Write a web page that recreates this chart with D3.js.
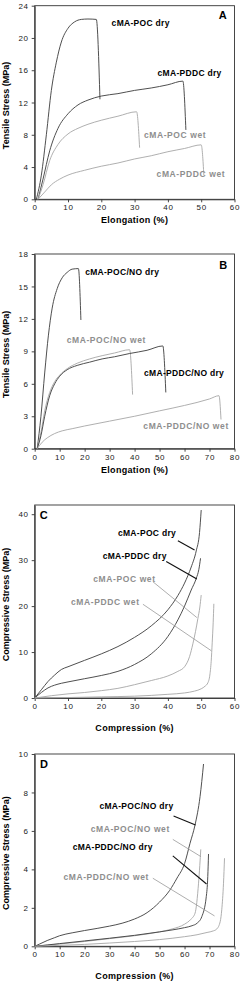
<!DOCTYPE html>
<html>
<head>
<meta charset="utf-8">
<script src="https://cdn.jsdelivr.net/npm/d3@7/dist/d3.min.js"></script>
<style>
  body { margin: 0; background: #fff; }
  text { font-family: Arial, "Liberation Sans", sans-serif; }
</style>
</head>
<body>
<svg id="chart" width="241" height="984"></svg>
<script>
//! DATA

//? Panel A - tensile, cMA-POC / cMA-PDDC
let aPocDryX = [0.5, 2, 3.5, 5, 6.5, 8, 10, 12, 14, 16, 18.5, 19.6];
let aPocDryY = [0, 3, 8, 13.5, 17, 19.5, 21.2, 22, 22.3, 22.35, 22.3, 12.4];
let aPddcDryX = [1, 2.5, 4.5, 7, 10, 13, 16, 20, 25, 30, 35, 40, 44.5, 45.4];
let aPddcDryY = [0, 2.5, 6, 8.8, 10.6, 11.7, 12.3, 12.8, 13.1, 13.5, 13.8, 14.2, 14.65, 8.6];
let aPocWetX = [1, 2.5, 4.5, 7, 10, 13, 16, 20, 25, 30.6, 31.5];
let aPocWetY = [0, 1.8, 4.8, 6.8, 8.1, 8.8, 9.3, 9.8, 10.3, 10.85, 6.4];
let aPddcWetX = [1, 3, 5, 7.5, 10, 15, 20, 25, 30, 35, 40, 45, 50, 50.8];
let aPddcWetY = [0, 0.9, 1.8, 2.5, 3.0, 3.6, 4.1, 4.5, 5.0, 5.4, 5.9, 6.3, 6.75, 3.0];

//? Panel B - tensile, /NO
let bPocDryX = [1, 2.5, 4, 5.5, 7, 9, 11, 13, 15, 17.5, 18.5];
let bPocDryY = [0, 3, 7, 10.5, 13, 14.8, 15.8, 16.3, 16.6, 16.65, 11.9];
let bPocWetX = [1, 2.5, 4, 6, 8, 10, 13, 17, 22, 27, 32, 38, 39.2];
let bPocWetY = [0, 1.5, 3.5, 5.2, 6.2, 6.8, 7.4, 7.9, 8.3, 8.6, 8.85, 9.15, 5.0];
let bPddcDryX = [1, 2.5, 4, 6, 8, 10, 13, 17, 22, 27, 32, 38, 45, 51.3, 52.5];
let bPddcDryY = [0, 1.2, 3, 4.9, 6.0, 6.7, 7.3, 7.7, 8.0, 8.3, 8.5, 8.8, 9.1, 9.5, 5.2];
let bPddcWetX = [1, 3, 5, 8, 11, 15, 20, 30, 40, 50, 60, 70, 73.8, 74.6];
let bPddcWetY = [0, 0.6, 1.0, 1.4, 1.65, 1.85, 2.1, 2.55, 3.0, 3.5, 4.0, 4.6, 4.9, 2.7];

//? Panel C - compressive
let cPocDryX = [0, 2, 4, 6, 8, 10, 15, 20, 25, 30, 35, 40, 43, 45, 47, 48.5, 49.5, 50];
let cPocDryY = [0, 1.8, 3.6, 5.0, 6.2, 6.8, 8.2, 9.6, 11.2, 13.2, 15.7, 19.2, 22.3, 25, 28.5, 32, 36, 40.9];
let cPddcDryX = [0, 2, 4, 6, 8, 10, 15, 20, 25, 30, 35, 40, 43, 45, 47, 48.5, 49.3, 49.8];
let cPddcDryY = [0, 1.2, 2.2, 2.8, 3.2, 3.5, 4.2, 4.9, 5.8, 7.3, 9.6, 13.4, 17, 20, 23.5, 26, 28, 30.4];
let cPocWetX = [0, 5, 10, 15, 20, 25, 30, 35, 40, 43, 45, 46.5, 47.5, 48.3, 49, 49.6, 50];
let cPocWetY = [0, 0.5, 0.9, 1.2, 1.6, 2.1, 2.9, 3.8, 4.8, 5.8, 6.8, 9, 11.8, 14.5, 17.3, 19.8, 22.4];
let cPddcWetX = [0, 10, 20, 30, 40, 45, 48, 50, 51.2, 52, 52.6, 53, 53.3, 53.6, 53.8];
let cPddcWetY = [0, 0.1, 0.25, 0.4, 0.8, 1.1, 1.5, 2.0, 2.6, 3.3, 5, 8, 12, 16.5, 20.5];

//? Panel D - compressive, /NO
let dPocDryX = [0, 2, 5, 8, 10, 15, 20, 25, 30, 35, 40, 45, 50, 54, 57, 60, 62.2, 64.2, 66.2, 67.6];
let dPocDryY = [0, 0.12, 0.3, 0.45, 0.55, 0.7, 0.82, 0.93, 1.05, 1.2, 1.42, 1.75, 2.3, 2.9, 3.55, 4.3, 5.36, 6.31, 7.78, 9.48];
let dPocWetX = [0, 5, 10, 20, 30, 40, 50, 55, 60, 62.5, 64.2, 65.6, 66.1, 66.5];
let dPocWetY = [0, 0.06, 0.12, 0.25, 0.4, 0.55, 0.75, 0.9, 1.15, 1.4, 1.72, 3.28, 4.2, 5.04];
let dPddcDryX = [0, 5, 10, 20, 30, 40, 50, 55, 60, 63, 65, 66.9, 68.7, 69.3, 69.6];
let dPddcDryY = [0, 0.07, 0.14, 0.28, 0.42, 0.57, 0.75, 0.85, 0.97, 1.07, 1.2, 1.54, 2.58, 3.62, 4.8];
let dPddcWetX = [0, 10, 20, 30, 40, 50, 60, 65, 69, 71.5, 72.9, 74.3, 74.9, 75.6, 76];
let dPddcWetY = [0, 0.05, 0.1, 0.17, 0.25, 0.35, 0.5, 0.6, 0.72, 0.8, 0.9, 1.3, 1.9, 3.28, 4.58];

//? Tick values
let tickX60 = [0, 10, 20, 30, 40, 50, 60];
let tickX80 = [0, 10, 20, 30, 40, 50, 60, 70, 80];
let tickYA = [0, 4, 8, 12, 16, 20, 24];
let tickYB = [0, 3, 6, 9, 12, 15, 18];
let tickYC = [0, 10, 20, 30, 40];
let tickYD = [0, 2, 4, 6, 8, 10];

//? Series names
let namesTensile = ["cMA-POC dry", "cMA-PDDC dry", "cMA-POC wet", "cMA-PDDC wet"];
let namesNO = ["cMA-POC/NO dry", "cMA-POC/NO wet", "cMA-PDDC/NO dry", "cMA-PDDC/NO wet"];

//! COLOURS
let darkLine = "#464646";
let lightLine = "#a6a6a6";
let darkText = "#000";
let lightText = "#8e8e8e";

function pts(xs, ys) {
    return xs.map((x, i) => ({ x: x, y: ys[i] }));
}

//? Panel settings; label and pointer positions are in data units
let panels = [
    {
        top: 5.7, bottom: 199.3, xMax: 60, yMax: 24, xTicks: tickX60, yTicks: tickYA,
        xTitle: "Elongation (%)", yTitle: "Tensile Stress (MPa)", titleGap: 21,
        letter: "A", letterX: 56.5, letterY: 22.8,
        series: [
            { d: pts(aPocDryX, aPocDryY), dark: true },
            { d: pts(aPddcDryX, aPddcDryY), dark: true },
            { d: pts(aPocWetX, aPocWetY), dark: false },
            { d: pts(aPddcWetX, aPddcWetY), dark: false }
        ],
        labels: [
            { t: namesTensile[0], x: 23.1, y: 21.9, dark: true },
            { t: namesTensile[1], x: 36.9, y: 15.7, dark: true },
            { t: namesTensile[2], x: 32.8, y: 7.97, dark: false },
            { t: namesTensile[3], x: 36.6, y: 3.14, dark: false }
        ],
        pointers: []
    },
    {
        top: 254, bottom: 448.7, xMax: 80, yMax: 18, xTicks: tickX80, yTicks: tickYB,
        xTitle: "Elongation (%)", yTitle: "Tensile Stress (MPa)", titleGap: 21.5,
        letter: "B", letterX: 75.5, letterY: 17.0,
        series: [
            { d: pts(bPocDryX, bPocDryY), dark: true },
            { d: pts(bPocWetX, bPocWetY), dark: false },
            { d: pts(bPddcDryX, bPddcDryY), dark: true },
            { d: pts(bPddcWetX, bPddcWetY), dark: false }
        ],
        labels: [
            { t: namesNO[0], x: 20.2, y: 16.3, dark: true },
            { t: namesNO[1], x: 12.8, y: 10.05, dark: false },
            { t: namesNO[2], x: 43.8, y: 6.97, dark: true },
            { t: namesNO[3], x: 43.5, y: 2.13, dark: false }
        ],
        pointers: []
    },
    {
        top: 505, bottom: 698, xMax: 60, yMax: 42, xTicks: tickX60, yTicks: tickYC,
        xTitle: "Compression (%)", yTitle: "Compressive Stress (MPa)", titleGap: 30,
        letter: "C", letterX: 2.7, letterY: 39.9,
        series: [
            { d: pts(cPocDryX, cPocDryY), dark: true },
            { d: pts(cPddcDryX, cPddcDryY), dark: true },
            { d: pts(cPocWetX, cPocWetY), dark: false },
            { d: pts(cPddcWetX, cPddcWetY), dark: false }
        ],
        labels: [
            { t: namesTensile[0], x: 25.0, y: 35.9, dark: true },
            { t: namesTensile[1], x: 20.4, y: 30.8, dark: true },
            { t: namesTensile[2], x: 17.6, y: 25.9, dark: false },
            { t: namesTensile[3], x: 10.9, y: 20.8, dark: false }
        ],
        pointers: [
            { x1: 43.0, y1: 34.2, x2: 48.0, y2: 32.2, dark: true },
            { x1: 39.5, y1: 29.7, x2: 48.7, y2: 25.9, dark: true },
            { x1: 35.5, y1: 25.3, x2: 48.7, y2: 17.5, dark: false },
            { x1: 32.5, y1: 20.4, x2: 53.0, y2: 10.3, dark: false }
        ]
    },
    {
        top: 754, bottom: 946.3, xMax: 80, yMax: 10, xTicks: tickX80, yTicks: tickYD,
        xTitle: "Compression (%)", yTitle: "Compressive Stress (MPa)", titleGap: 30,
        letter: "D", letterX: 3.7, letterY: 9.48,
        series: [
            { d: pts(dPocDryX, dPocDryY), dark: true },
            { d: pts(dPocWetX, dPocWetY), dark: false },
            { d: pts(dPddcDryX, dPddcDryY), dark: true },
            { d: pts(dPddcWetX, dPddcWetY), dark: false }
        ],
        labels: [
            { t: namesNO[0], x: 25.9, y: 7.3, dark: true },
            { t: namesNO[1], x: 22.4, y: 6.08, dark: false },
            { t: namesNO[2], x: 15.2, y: 5.15, dark: true },
            { t: namesNO[3], x: 11.5, y: 3.59, dark: false }
        ],
        pointers: [
            { x1: 55.6, y1: 6.78, x2: 64.4, y2: 6.31, dark: true },
            { x1: 55.3, y1: 5.56, x2: 66.6, y2: 4.66, dark: false },
            { x1: 55.3, y1: 4.7, x2: 68.8, y2: 3.24, dark: true },
            { x1: 47.3, y1: 3.54, x2: 72.0, y2: 1.58, dark: false }
        ]
    }
];

let svg = d3.select("#chart");
let left = 34.7;
let right = 234.5;

panels.forEach(function (p) {
    let x = d3.scaleLinear().domain([0, p.xMax]).range([left, right]);
    let y = d3.scaleLinear().domain([0, p.yMax]).range([p.bottom, p.top]);
    let g = svg.append("g");

    //? Frame
    g.append("rect")
        .attr("x", left)
        .attr("y", p.top)
        .attr("width", right - left)
        .attr("height", p.bottom - p.top)
        .attr("fill", "none")
        .attr("stroke", "#333")
        .attr("stroke-width", 0.9);

    //? Axes
    let xAxis = g.append("g")
        .attr("transform", "translate(0," + p.bottom + ")")
        .call(d3.axisBottom(x).tickValues(p.xTicks).tickSize(3).tickPadding(2.5).tickSizeOuter(0));
    let yAxis = g.append("g")
        .attr("transform", "translate(" + left + ",0)")
        .call(d3.axisLeft(y).tickValues(p.yTicks).tickSize(3).tickPadding(3).tickSizeOuter(0));
    [xAxis, yAxis].forEach(function (a) {
        a.select(".domain").attr("stroke", "#333").attr("stroke-width", 0.9);
        a.selectAll(".tick line").attr("stroke", "#333").attr("stroke-width", 0.9);
        a.selectAll(".tick text")
            .attr("fill", "#222")
            .attr("letter-spacing", 0.7)
            .style("font-size", "8px")
            .style("font-family", "Arial, 'Liberation Sans', sans-serif");
    });

    //? Curves
    let line = d3.line()
        .x(d => x(d.x))
        .y(d => y(d.y))
        .curve(d3.curveMonotoneX);

    g.append("g")
        .selectAll("path")
        .data(p.series)
        .enter()
        .append("path")
        .attr("d", d => line(d.d))
        .attr("fill", "none")
        .attr("stroke", d => d.dark ? darkLine : lightLine)
        .attr("stroke-width", d => d.dark ? 0.95 : 0.9);

    //? Pointer lines
    g.append("g")
        .selectAll("line")
        .data(p.pointers)
        .enter()
        .append("line")
        .attr("x1", d => x(d.x1))
        .attr("y1", d => y(d.y1))
        .attr("x2", d => x(d.x2))
        .attr("y2", d => y(d.y2))
        .attr("stroke", d => d.dark ? "#111" : "#999")
        .attr("stroke-width", d => d.dark ? 1.1 : 0.8);

    //? Series labels
    g.append("g")
        .selectAll("text")
        .data(p.labels)
        .enter()
        .append("text")
        .text(d => d.t)
        .attr("x", d => x(d.x))
        .attr("y", d => y(d.y))
        .attr("dy", "0.35em")
        .attr("fill", d => d.dark ? darkText : lightText)
        .attr("font-weight", "bold")
        .attr("font-size", "8.5px")
        .attr("letter-spacing", d => d.dark ? 0.3 : 0.6);

    //? Panel letter
    g.append("text")
        .text(p.letter)
        .attr("x", x(p.letterX))
        .attr("y", y(p.letterY))
        .attr("dy", "0.35em")
        .attr("text-anchor", "middle")
        .attr("font-weight", "bold")
        .attr("font-size", "11px");

    //? Axis titles
    g.append("text")
        .text(p.xTitle)
        .attr("x", (left + right) / 2)
        .attr("y", p.bottom + p.titleGap)
        .attr("dy", "0.35em")
        .attr("text-anchor", "middle")
        .attr("font-weight", "bold")
        .attr("font-size", "9px")
        .attr("letter-spacing", 0.3);

    g.append("text")
        .text(p.yTitle)
        .attr("transform", "translate(6," + ((p.top + p.bottom) / 2 + 3) + ") rotate(-90)")
        .attr("dy", "0.35em")
        .attr("text-anchor", "middle")
        .attr("font-weight", "bold")
        .attr("font-size", "9px");
});
</script>
</body>
</html>
